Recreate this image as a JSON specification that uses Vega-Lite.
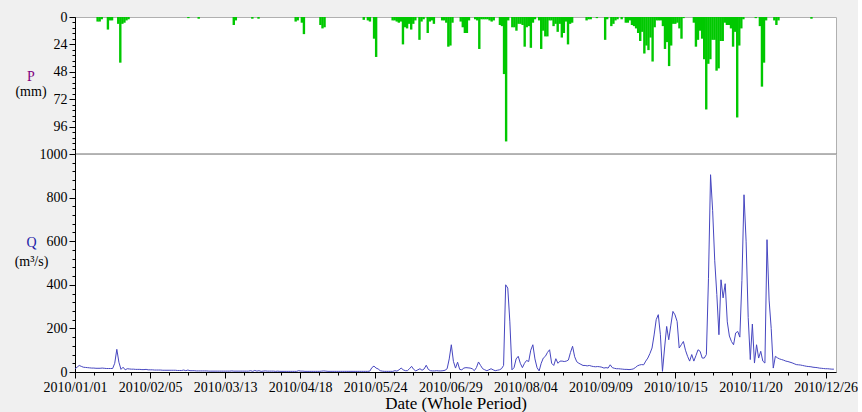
{
"$schema":"https://vega.github.io/schema/vega-lite/v6.json",
"background":"#f0f0f0",
"padding":{"left":13,"top":9,"right":0,"bottom":0},
"spacing":0,
"bounds":"flush",
"config":{
 "view":{"stroke":"#b0b0b0","fill":"white"},
 "axis":{"labelFont":"Liberation Serif","titleFont":"Liberation Serif","labelFontSize":14,"titleFontSize":14,"labelColor":"#000","titleColor":"#000","tickColor":"#000","domainColor":"#000","grid":false,"titleFontWeight":"normal","labelPadding":2,"tickSize":6}
},
"datasets":{
"precip":[
{"date":"2010-01-09","p":4},{"date":"2010-01-10","p":4},{"date":"2010-01-11","p":2},{"date":"2010-01-14","p":11},{"date":"2010-01-15","p":3},{"date":"2010-01-16","p":3},{"date":"2010-01-19","p":6},{"date":"2010-01-20","p":40},{"date":"2010-01-21","p":6},{"date":"2010-01-22","p":5},{"date":"2010-01-23","p":3},{"date":"2010-01-24","p":2},
{"date":"2010-02-22","p":1},{"date":"2010-02-27","p":1.5},
{"date":"2010-03-16","p":7},{"date":"2010-03-17","p":3},{"date":"2010-03-25","p":1.5},{"date":"2010-03-28","p":1.5},
{"date":"2010-04-15","p":4},{"date":"2010-04-16","p":3},{"date":"2010-04-18","p":5},{"date":"2010-04-19","p":15},{"date":"2010-04-27","p":7},{"date":"2010-04-28","p":10},{"date":"2010-04-29","p":9},
{"date":"2010-05-18","p":2.5},{"date":"2010-05-20","p":3},{"date":"2010-05-21","p":4},{"date":"2010-05-23","p":19},{"date":"2010-05-24","p":35},
{"date":"2010-06-01","p":3},{"date":"2010-06-02","p":3},{"date":"2010-06-03","p":4},{"date":"2010-06-04","p":5},{"date":"2010-06-05","p":4},{"date":"2010-06-06","p":24},{"date":"2010-06-07","p":9},{"date":"2010-06-08","p":10},{"date":"2010-06-09","p":6},{"date":"2010-06-10","p":11},{"date":"2010-06-11","p":6},{"date":"2010-06-12","p":3},{"date":"2010-06-14","p":20},{"date":"2010-06-15","p":4},{"date":"2010-06-16","p":2},{"date":"2010-06-18","p":14},{"date":"2010-06-19","p":4},{"date":"2010-06-20","p":3},{"date":"2010-06-21","p":6},{"date":"2010-06-25","p":3},{"date":"2010-06-26","p":3},{"date":"2010-06-27","p":5},{"date":"2010-06-28","p":26},{"date":"2010-06-29","p":25},{"date":"2010-06-30","p":5},
{"date":"2010-07-04","p":4},{"date":"2010-07-05","p":9},{"date":"2010-07-06","p":14},{"date":"2010-07-07","p":14},{"date":"2010-07-08","p":3},{"date":"2010-07-11","p":2},{"date":"2010-07-12","p":3},{"date":"2010-07-13","p":28},{"date":"2010-07-14","p":2},{"date":"2010-07-15","p":2},{"date":"2010-07-16","p":2},{"date":"2010-07-17","p":2},{"date":"2010-07-18","p":3},{"date":"2010-07-19","p":4},{"date":"2010-07-20","p":3},{"date":"2010-07-23","p":7},{"date":"2010-07-24","p":8},{"date":"2010-07-25","p":50},{"date":"2010-07-26","p":109},{"date":"2010-07-27","p":3},{"date":"2010-07-29","p":9},{"date":"2010-07-30","p":9},{"date":"2010-07-31","p":12},
{"date":"2010-08-01","p":6},{"date":"2010-08-02","p":6},{"date":"2010-08-03","p":7},{"date":"2010-08-04","p":26},{"date":"2010-08-05","p":9},{"date":"2010-08-06","p":8},{"date":"2010-08-07","p":27},{"date":"2010-08-08","p":5},{"date":"2010-08-09","p":2},{"date":"2010-08-11","p":3},{"date":"2010-08-12","p":28},{"date":"2010-08-13","p":12},{"date":"2010-08-14","p":17},{"date":"2010-08-15","p":17},{"date":"2010-08-16","p":3},{"date":"2010-08-17","p":3},{"date":"2010-08-18","p":8},{"date":"2010-08-19","p":6},{"date":"2010-08-20","p":13},{"date":"2010-08-21","p":6},{"date":"2010-08-22","p":18},{"date":"2010-08-23","p":14},{"date":"2010-08-24","p":4},{"date":"2010-08-25","p":24},{"date":"2010-08-26","p":6},{"date":"2010-08-27","p":5},
{"date":"2010-09-03","p":3},{"date":"2010-09-04","p":2},{"date":"2010-09-05","p":2},{"date":"2010-09-08","p":1},{"date":"2010-09-12","p":20},{"date":"2010-09-13","p":2},{"date":"2010-09-15","p":8},{"date":"2010-09-16","p":6},{"date":"2010-09-17","p":3},{"date":"2010-09-18","p":2},{"date":"2010-09-20","p":2},{"date":"2010-09-22","p":5},{"date":"2010-09-23","p":5},{"date":"2010-09-24","p":3},{"date":"2010-09-25","p":7},{"date":"2010-09-26","p":8},{"date":"2010-09-27","p":10},{"date":"2010-09-28","p":14},{"date":"2010-09-29","p":21},{"date":"2010-09-30","p":13},
{"date":"2010-10-01","p":32},{"date":"2010-10-02","p":25},{"date":"2010-10-03","p":29},{"date":"2010-10-04","p":18},{"date":"2010-10-05","p":39},{"date":"2010-10-06","p":9},{"date":"2010-10-07","p":3},{"date":"2010-10-08","p":3},{"date":"2010-10-09","p":3},{"date":"2010-10-10","p":8},{"date":"2010-10-11","p":28},{"date":"2010-10-12","p":22},{"date":"2010-10-13","p":43},{"date":"2010-10-14","p":25},{"date":"2010-10-15","p":6},{"date":"2010-10-16","p":6},{"date":"2010-10-17","p":5},{"date":"2010-10-18","p":10},{"date":"2010-10-19","p":19},{"date":"2010-10-20","p":1},{"date":"2010-10-25","p":5},{"date":"2010-10-26","p":26},{"date":"2010-10-27","p":20},{"date":"2010-10-28","p":12},{"date":"2010-10-29","p":19},{"date":"2010-10-30","p":37},{"date":"2010-10-31","p":81},
{"date":"2010-11-01","p":41},{"date":"2010-11-02","p":37},{"date":"2010-11-03","p":20},{"date":"2010-11-04","p":20},{"date":"2010-11-05","p":47},{"date":"2010-11-06","p":45},{"date":"2010-11-07","p":21},{"date":"2010-11-08","p":21},{"date":"2010-11-09","p":5},{"date":"2010-11-10","p":7},{"date":"2010-11-11","p":7},{"date":"2010-11-12","p":10},{"date":"2010-11-13","p":26},{"date":"2010-11-14","p":13},{"date":"2010-11-15","p":88},{"date":"2010-11-16","p":25},{"date":"2010-11-17","p":10},{"date":"2010-11-18","p":2},{"date":"2010-11-24","p":1},{"date":"2010-11-26","p":8},{"date":"2010-11-27","p":61},{"date":"2010-11-28","p":40},{"date":"2010-11-29","p":3},
{"date":"2010-12-03","p":3},{"date":"2010-12-04","p":7},{"date":"2010-12-05","p":3},{"date":"2010-12-21","p":1.5}
],
"flow":[
{"date":"2010-01-01","q":15},{"date":"2010-01-02","q":22},{"date":"2010-01-03","q":30},{"date":"2010-01-04","q":26},{"date":"2010-01-05","q":22},{"date":"2010-01-06","q":21},{"date":"2010-01-07","q":20},{"date":"2010-01-08","q":19},{"date":"2010-01-09","q":18},{"date":"2010-01-10","q":18},{"date":"2010-01-11","q":17},{"date":"2010-01-12","q":17},{"date":"2010-01-13","q":17},{"date":"2010-01-14","q":18},{"date":"2010-01-15","q":17},{"date":"2010-01-16","q":16},{"date":"2010-01-17","q":16},{"date":"2010-01-18","q":16},{"date":"2010-01-19","q":16},{"date":"2010-01-20","q":40},{"date":"2010-01-21","q":104},{"date":"2010-01-22","q":45},{"date":"2010-01-23","q":12},{"date":"2010-01-24","q":22},{"date":"2010-01-25","q":10},{"date":"2010-01-26","q":15},{"date":"2010-01-27","q":14},{"date":"2010-01-28","q":13},{"date":"2010-01-29","q":13},{"date":"2010-01-30","q":12},{"date":"2010-01-31","q":12},
{"date":"2010-02-01","q":12},{"date":"2010-02-02","q":11},{"date":"2010-02-03","q":11},{"date":"2010-02-04","q":12},{"date":"2010-02-05","q":10},{"date":"2010-02-06","q":10},{"date":"2010-02-07","q":10},{"date":"2010-02-08","q":9},{"date":"2010-02-09","q":9},{"date":"2010-02-10","q":9},{"date":"2010-02-11","q":9},{"date":"2010-02-12","q":8},{"date":"2010-02-13","q":8},{"date":"2010-02-14","q":8},{"date":"2010-02-15","q":8},{"date":"2010-02-16","q":8},{"date":"2010-02-17","q":8},{"date":"2010-02-18","q":8},{"date":"2010-02-19","q":7},{"date":"2010-02-20","q":7},{"date":"2010-02-21","q":7},{"date":"2010-02-22","q":9},{"date":"2010-02-23","q":6},{"date":"2010-02-24","q":9},{"date":"2010-02-25","q":6},{"date":"2010-02-26","q":6},{"date":"2010-02-27","q":6},{"date":"2010-02-28","q":5},
{"date":"2010-03-01","q":5},{"date":"2010-03-02","q":5},{"date":"2010-03-03","q":5},{"date":"2010-03-04","q":5},{"date":"2010-03-05","q":5},{"date":"2010-03-06","q":4},{"date":"2010-03-07","q":4},{"date":"2010-03-08","q":4},{"date":"2010-03-09","q":4},{"date":"2010-03-10","q":4},{"date":"2010-03-11","q":4},{"date":"2010-03-12","q":4},{"date":"2010-03-13","q":4},{"date":"2010-03-14","q":4},{"date":"2010-03-15","q":4},{"date":"2010-03-16","q":4},{"date":"2010-03-17","q":5},{"date":"2010-03-18","q":4},{"date":"2010-03-19","q":4},{"date":"2010-03-20","q":4},{"date":"2010-03-21","q":4},{"date":"2010-03-22","q":4},{"date":"2010-03-23","q":4},{"date":"2010-03-24","q":4},{"date":"2010-03-25","q":4},{"date":"2010-03-26","q":6},{"date":"2010-03-27","q":3},{"date":"2010-03-28","q":7},{"date":"2010-03-29","q":4},{"date":"2010-03-30","q":6},{"date":"2010-03-31","q":3},
{"date":"2010-04-01","q":4},{"date":"2010-04-02","q":5},{"date":"2010-04-03","q":4},{"date":"2010-04-04","q":4},{"date":"2010-04-05","q":4},{"date":"2010-04-06","q":4},{"date":"2010-04-07","q":3},{"date":"2010-04-08","q":4},{"date":"2010-04-09","q":3},{"date":"2010-04-10","q":3},{"date":"2010-04-11","q":3},{"date":"2010-04-12","q":3},{"date":"2010-04-13","q":3},{"date":"2010-04-14","q":3},{"date":"2010-04-15","q":3},{"date":"2010-04-16","q":3},{"date":"2010-04-17","q":3},{"date":"2010-04-18","q":6},{"date":"2010-04-19","q":4},{"date":"2010-04-20","q":4},{"date":"2010-04-21","q":3},{"date":"2010-04-22","q":3},{"date":"2010-04-23","q":3},{"date":"2010-04-24","q":3},{"date":"2010-04-25","q":3},{"date":"2010-04-26","q":3},{"date":"2010-04-27","q":3},{"date":"2010-04-28","q":3},{"date":"2010-04-29","q":4},{"date":"2010-04-30","q":5},
{"date":"2010-05-01","q":4},{"date":"2010-05-02","q":3},{"date":"2010-05-03","q":3},{"date":"2010-05-04","q":3},{"date":"2010-05-05","q":3},{"date":"2010-05-06","q":3},{"date":"2010-05-07","q":3},{"date":"2010-05-08","q":3},{"date":"2010-05-09","q":3},{"date":"2010-05-10","q":3},{"date":"2010-05-11","q":3},{"date":"2010-05-12","q":3},{"date":"2010-05-13","q":3},{"date":"2010-05-14","q":3},{"date":"2010-05-15","q":3},{"date":"2010-05-16","q":3},{"date":"2010-05-17","q":3},{"date":"2010-05-18","q":3},{"date":"2010-05-19","q":3},{"date":"2010-05-20","q":3},{"date":"2010-05-21","q":3},{"date":"2010-05-22","q":4},{"date":"2010-05-23","q":20},{"date":"2010-05-24","q":27},{"date":"2010-05-25","q":18},{"date":"2010-05-26","q":14},{"date":"2010-05-27","q":6},{"date":"2010-05-28","q":4},{"date":"2010-05-29","q":3},{"date":"2010-05-30","q":3},{"date":"2010-05-31","q":3},
{"date":"2010-06-01","q":3},{"date":"2010-06-02","q":3},{"date":"2010-06-03","q":6},{"date":"2010-06-04","q":4},{"date":"2010-06-05","q":10},{"date":"2010-06-06","q":18},{"date":"2010-06-07","q":10},{"date":"2010-06-08","q":6},{"date":"2010-06-09","q":6},{"date":"2010-06-10","q":15},{"date":"2010-06-11","q":26},{"date":"2010-06-12","q":12},{"date":"2010-06-13","q":5},{"date":"2010-06-14","q":10},{"date":"2010-06-15","q":15},{"date":"2010-06-16","q":8},{"date":"2010-06-17","q":14},{"date":"2010-06-18","q":31},{"date":"2010-06-19","q":12},{"date":"2010-06-20","q":6},{"date":"2010-06-21","q":5},{"date":"2010-06-22","q":5},{"date":"2010-06-23","q":6},{"date":"2010-06-24","q":5},{"date":"2010-06-25","q":5},{"date":"2010-06-26","q":6},{"date":"2010-06-27","q":8},{"date":"2010-06-28","q":15},{"date":"2010-06-29","q":60},{"date":"2010-06-30","q":125},
{"date":"2010-07-01","q":49},{"date":"2010-07-02","q":18},{"date":"2010-07-03","q":45},{"date":"2010-07-04","q":12},{"date":"2010-07-05","q":10},{"date":"2010-07-06","q":18},{"date":"2010-07-07","q":20},{"date":"2010-07-08","q":19},{"date":"2010-07-09","q":18},{"date":"2010-07-10","q":15},{"date":"2010-07-11","q":6},{"date":"2010-07-12","q":20},{"date":"2010-07-13","q":46},{"date":"2010-07-14","q":30},{"date":"2010-07-15","q":15},{"date":"2010-07-16","q":10},{"date":"2010-07-17","q":6},{"date":"2010-07-18","q":10},{"date":"2010-07-19","q":15},{"date":"2010-07-20","q":10},{"date":"2010-07-21","q":6},{"date":"2010-07-22","q":8},{"date":"2010-07-23","q":10},{"date":"2010-07-24","q":15},{"date":"2010-07-25","q":30},{"date":"2010-07-26","q":400},{"date":"2010-07-27","q":385},{"date":"2010-07-28","q":230},{"date":"2010-07-29","q":10},{"date":"2010-07-30","q":20},{"date":"2010-07-31","q":60},
{"date":"2010-08-01","q":72},{"date":"2010-08-02","q":40},{"date":"2010-08-03","q":20},{"date":"2010-08-04","q":40},{"date":"2010-08-05","q":53},{"date":"2010-08-06","q":48},{"date":"2010-08-07","q":100},{"date":"2010-08-08","q":125},{"date":"2010-08-09","q":60},{"date":"2010-08-10","q":20},{"date":"2010-08-11","q":5},{"date":"2010-08-12","q":40},{"date":"2010-08-13","q":64},{"date":"2010-08-14","q":72},{"date":"2010-08-15","q":90},{"date":"2010-08-16","q":102},{"date":"2010-08-17","q":40},{"date":"2010-08-18","q":30},{"date":"2010-08-19","q":61},{"date":"2010-08-20","q":40},{"date":"2010-08-21","q":50},{"date":"2010-08-22","q":50},{"date":"2010-08-23","q":48},{"date":"2010-08-24","q":50},{"date":"2010-08-25","q":55},{"date":"2010-08-26","q":90},{"date":"2010-08-27","q":118},{"date":"2010-08-28","q":70},{"date":"2010-08-29","q":47},{"date":"2010-08-30","q":40},{"date":"2010-08-31","q":35},
{"date":"2010-09-01","q":30},{"date":"2010-09-02","q":30},{"date":"2010-09-03","q":28},{"date":"2010-09-04","q":30},{"date":"2010-09-05","q":27},{"date":"2010-09-06","q":25},{"date":"2010-09-07","q":24},{"date":"2010-09-08","q":25},{"date":"2010-09-09","q":24},{"date":"2010-09-10","q":22},{"date":"2010-09-11","q":18},{"date":"2010-09-12","q":20},{"date":"2010-09-13","q":18},{"date":"2010-09-14","q":33},{"date":"2010-09-15","q":20},{"date":"2010-09-16","q":17},{"date":"2010-09-17","q":15},{"date":"2010-09-18","q":15},{"date":"2010-09-19","q":14},{"date":"2010-09-20","q":13},{"date":"2010-09-21","q":12},{"date":"2010-09-22","q":12},{"date":"2010-09-23","q":11},{"date":"2010-09-24","q":12},{"date":"2010-09-25","q":14},{"date":"2010-09-26","q":20},{"date":"2010-09-27","q":28},{"date":"2010-09-28","q":32},{"date":"2010-09-29","q":34},{"date":"2010-09-30","q":33},
{"date":"2010-10-01","q":50},{"date":"2010-10-02","q":64},{"date":"2010-10-03","q":85},{"date":"2010-10-04","q":110},{"date":"2010-10-05","q":170},{"date":"2010-10-06","q":240},{"date":"2010-10-07","q":263},{"date":"2010-10-08","q":171},{"date":"2010-10-09","q":3},{"date":"2010-10-10","q":110},{"date":"2010-10-11","q":209},{"date":"2010-10-12","q":148},{"date":"2010-10-13","q":215},{"date":"2010-10-14","q":278},{"date":"2010-10-15","q":262},{"date":"2010-10-16","q":232},{"date":"2010-10-17","q":110},{"date":"2010-10-18","q":125},{"date":"2010-10-19","q":140},{"date":"2010-10-20","q":100},{"date":"2010-10-21","q":72},{"date":"2010-10-22","q":50},{"date":"2010-10-23","q":80},{"date":"2010-10-24","q":50},{"date":"2010-10-25","q":75},{"date":"2010-10-26","q":102},{"date":"2010-10-27","q":95},{"date":"2010-10-28","q":64},{"date":"2010-10-29","q":64},{"date":"2010-10-30","q":80},{"date":"2010-10-31","q":430},
{"date":"2010-11-01","q":905},{"date":"2010-11-02","q":740},{"date":"2010-11-03","q":510},{"date":"2010-11-04","q":355},{"date":"2010-11-05","q":171},{"date":"2010-11-06","q":423},{"date":"2010-11-07","q":340},{"date":"2010-11-08","q":405},{"date":"2010-11-09","q":230},{"date":"2010-11-10","q":165},{"date":"2010-11-11","q":140},{"date":"2010-11-12","q":125},{"date":"2010-11-13","q":179},{"date":"2010-11-14","q":186},{"date":"2010-11-15","q":160},{"date":"2010-11-16","q":420},{"date":"2010-11-17","q":813},{"date":"2010-11-18","q":600},{"date":"2010-11-19","q":250},{"date":"2010-11-20","q":57},{"date":"2010-11-21","q":220},{"date":"2010-11-22","q":41},{"date":"2010-11-23","q":125},{"date":"2010-11-24","q":64},{"date":"2010-11-25","q":95},{"date":"2010-11-26","q":50},{"date":"2010-11-27","q":41},{"date":"2010-11-28","q":607},{"date":"2010-11-29","q":330},{"date":"2010-11-30","q":200},
{"date":"2010-12-01","q":18},{"date":"2010-12-02","q":72},{"date":"2010-12-03","q":65},{"date":"2010-12-04","q":60},{"date":"2010-12-05","q":57},{"date":"2010-12-06","q":54},{"date":"2010-12-07","q":50},{"date":"2010-12-08","q":48},{"date":"2010-12-09","q":45},{"date":"2010-12-10","q":42},{"date":"2010-12-11","q":38},{"date":"2010-12-12","q":34},{"date":"2010-12-13","q":33},{"date":"2010-12-14","q":32},{"date":"2010-12-15","q":30},{"date":"2010-12-16","q":28},{"date":"2010-12-17","q":26},{"date":"2010-12-18","q":25},{"date":"2010-12-19","q":24},{"date":"2010-12-20","q":22},{"date":"2010-12-21","q":21},{"date":"2010-12-22","q":20},{"date":"2010-12-23","q":18},{"date":"2010-12-24","q":17},{"date":"2010-12-25","q":16},{"date":"2010-12-26","q":15},{"date":"2010-12-27","q":15},{"date":"2010-12-28","q":14},{"date":"2010-12-29","q":13},{"date":"2010-12-30","q":13}
]
},
"vconcat":[
{
 "width":761,"height":137,
 "data":{"name":"precip"},
 "layer":[
  {"mark":{"type":"bar","color":"#00c800","size":2.4,"xOffset":1.1},
   "encoding":{
    "x":{"field":"date","type":"temporal","scale":{"type":"utc","domain":[1262304000000,1293753600000]},"axis":{"orient":"bottom","values":[],"labels":false,"ticks":false,"domainColor":"#707070","domainWidth":2,"title":null}},
    "y":{"field":"p","type":"quantitative","scale":{"domain":[0,120],"reverse":true,"nice":false},"axis":{"orient":"left","values":[0,24,48,72,96],"title":"P","titleColor":"#800080","titleAngle":0,"titleAlign":"center","titleBaseline":"middle","titleX":-44.5,"titleY":59.5}}
   }},
  {"mark":{"type":"point","opacity":0},
   "encoding":{
    "y":{"field":"p","type":"quantitative","scale":{"domain":[0,120],"reverse":true,"nice":false},"axis":{"orient":"left","values":[0,4.8,9.6,14.4,19.2,24,28.8,33.6,38.4,43.2,48,52.8,57.6,62.4,67.2,72,76.8,81.6,86.4,91.2,96,100.8,105.6,110.4,115.2,120],"labels":false,"domain":false,"tickSize":3,"title":"(mm)","titleAngle":0,"titleAlign":"center","titleBaseline":"middle","titleX":-44.5,"titleY":74}}
   }}
 ],
 "resolve":{"axis":{"y":"independent"}}
},
{
 "width":761,"height":218,
 "data":{"name":"flow"},
 "layer":[
  {"mark":{"type":"line","color":"#4646c0","strokeWidth":1},
   "encoding":{
    "x":{"field":"date","type":"temporal","scale":{"type":"utc","domain":[1262304000000,1293753600000]},"axis":{"orient":"bottom","values":[1262304000000,1265405760000,1268507520000,1271609280000,1274711040000,1277812800000,1280914560000,1284016320000,1287118080000,1290219840000,1293321600000],"format":"%Y/%m/%d","labelFlush":false,"labelOverlap":false,"title":"Date (Whole Period)","titleFontSize":17,"titlePadding":1}},
    "y":{"field":"q","type":"quantitative","scale":{"domain":[0,1000],"nice":false},"axis":{"orient":"left","values":[0,200,400,600,800,1000],"format":"d","title":"Q","titleColor":"#1c1ca8","titleAngle":0,"titleAlign":"center","titleBaseline":"middle","titleX":-44,"titleY":88}}
   }},
  {"mark":{"type":"point","opacity":0},
   "encoding":{
    "x":{"field":"date","type":"temporal","scale":{"type":"utc","domain":[1262304000000,1293753600000]},"axis":{"orient":"bottom","values":[1262304000000,1263079440000,1263854880000,1264630320000,1265405760000,1266181200000,1266956640000,1267732080000,1268507520000,1269282960000,1270058400000,1270833840000,1271609280000,1272384720000,1273160160000,1273935600000,1274711040000,1275486480000,1276261920000,1277037360000,1277812800000,1278588240000,1279363680000,1280139120000,1280914560000,1281690000000,1282465440000,1283240880000,1284016320000,1284791760000,1285567200000,1286342640000,1287118080000,1287893520000,1288668960000,1289444400000,1290219840000,1290995280000,1291770720000,1292546160000,1293321600000],"labels":false,"domain":false,"tickSize":3,"title":null}},
    "y":{"field":"q","type":"quantitative","scale":{"domain":[0,1000],"nice":false},"axis":{"orient":"left","values":[0,40,80,120,160,200,240,280,320,360,400,440,480,520,560,600,640,680,720,760,800,840,880,920,960,1000],"labels":false,"domain":false,"tickSize":3,"title":"(m³/s)","titleAngle":0,"titleAlign":"center","titleBaseline":"middle","titleX":-44,"titleY":107}}
   }}
 ],
 "resolve":{"axis":{"x":"independent","y":"independent"}}
}
]
}
